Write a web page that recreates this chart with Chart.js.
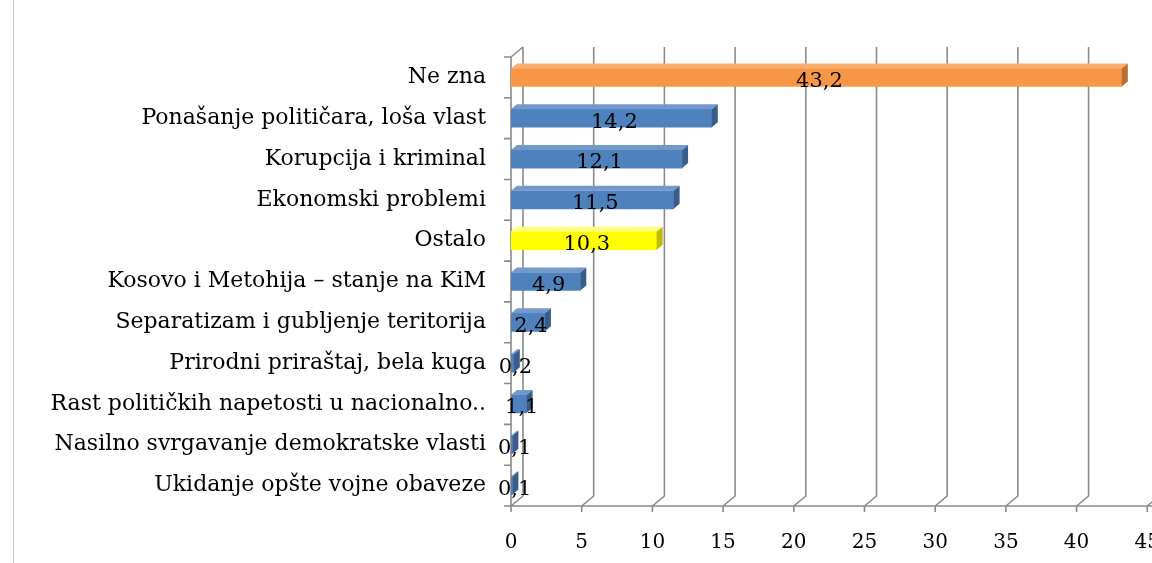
<!DOCTYPE html>
<html>
<head>
<meta charset="utf-8">
<script src="https://cdn.jsdelivr.net/npm/chart.js@4"></script>
<style>
  html, body { margin: 0; padding: 0; background: #fff; overflow: hidden; }
  canvas { display: block; }
</style>
</head>
<body>
<canvas id="chart" width="1177" height="563"></canvas>
<script>
const categories = [
    'Ne zna',
    'Ponašanje političara, loša vlast',
    'Korupcija i kriminal',
    'Ekonomski problemi',
    'Ostalo',
    'Kosovo i Metohija – stanje na KiM',
    'Separatizam i gubljenje teritorija',
    'Prirodni priraštaj, bela kuga',
    'Rast političkih napetosti u nacionalno..',
    'Nasilno svrgavanje demokratske vlasti',
    'Ukidanje opšte vojne obaveze'
];
const values = [43.2, 14.2, 12.1, 11.5, 10.3, 4.9, 2.4, 0.2, 1.1, 0.1, 0.1];
const xTicks = [0, 5, 10, 15, 20, 25, 30, 35, 40, 45];

const SERIF = '"DejaVu Serif", "Liberation Serif", serif';
const GRID = '#8a8a8a';
const DX = 12, DY = -10;      // depth of the back wall
const BDX = 6, BDY = -5;      // depth of each bar

const palette = {
    blue:   { front: '#4f81bd', top: '#7399cb', side: '#385d8a' },
    orange: { front: '#f79646', top: '#f9ad6e', side: '#b86e30' },
    yellow: { front: '#ffff00', top: '#ffff7a', side: '#bdbd00' }
};
const colorOf = c => c === 'Ne zna' ? palette.orange : (c === 'Ostalo' ? palette.yellow : palette.blue);

const background = {
    id: 'background',
    beforeDraw(chart) {
        const ctx = chart.ctx;
        ctx.save();
        ctx.fillStyle = '#fff';
        ctx.fillRect(0, 0, chart.width, chart.height);
        ctx.strokeStyle = '#c8c8c8';
        ctx.lineWidth = 1;
        ctx.beginPath();
        ctx.moveTo(13.5, 0);
        ctx.lineTo(13.5, chart.height);
        ctx.stroke();
        ctx.restore();
    }
};

const walls = {
    id: 'walls',
    beforeDatasetsDraw(chart) {
        const { ctx, chartArea: a, scales: { x } } = chart;
        ctx.save();
        ctx.strokeStyle = GRID;
        ctx.lineWidth = 1.6;
        ctx.beginPath();
        xTicks.forEach(v => {
            const px = x.getPixelForValue(v);
            // back wall line + diagonal to the front floor
            ctx.moveTo(px + DX, a.top + DY);
            ctx.lineTo(px + DX, a.bottom + DY);
            ctx.lineTo(px, a.bottom);
            // tick mark below the axis
            ctx.moveTo(px, a.bottom);
            ctx.lineTo(px, a.bottom + 6);
        });
        // front axis line
        ctx.moveTo(a.left - 7, a.bottom);
        ctx.lineTo(chart.width, a.bottom);
        // left wall front edge
        ctx.moveTo(a.left, a.bottom);
        ctx.lineTo(a.left, a.top);
        ctx.lineTo(a.left + DX, a.top + DY);
        // category ticks on the left
        const step = (a.bottom - a.top) / categories.length;
        for (let i = 0; i <= categories.length; i++) {
            const py = a.top + i * step;
            ctx.moveTo(a.left - 7, py);
            ctx.lineTo(a.left, py);
        }
        ctx.stroke();
        ctx.restore();
    }
};

const bars3d = {
    id: 'bars3d',
    afterDatasetsDraw(chart) {
        const ctx = chart.ctx;
        const meta = chart.getDatasetMeta(0);
        ctx.save();
        meta.data.forEach((bar, i) => {
            const col = colorOf(categories[i]);
            const t = bar.y - bar.height / 2, b = bar.y + bar.height / 2;
            ctx.fillStyle = col.top;
            ctx.beginPath();
            ctx.moveTo(bar.base, t);
            ctx.lineTo(bar.x, t);
            ctx.lineTo(bar.x + BDX, t + BDY);
            ctx.lineTo(bar.base + BDX, t + BDY);
            ctx.closePath();
            ctx.fill();
            ctx.fillStyle = col.side;
            ctx.beginPath();
            ctx.moveTo(bar.x, t);
            ctx.lineTo(bar.x + BDX, t + BDY);
            ctx.lineTo(bar.x + BDX, b + BDY);
            ctx.lineTo(bar.x, b);
            ctx.closePath();
            ctx.fill();
        });
        ctx.restore();
    },
    afterDraw(chart) {
        const ctx = chart.ctx;
        const meta = chart.getDatasetMeta(0);
        ctx.save();
        ctx.font = '21px ' + SERIF;
        ctx.fillStyle = '#000';
        ctx.textAlign = 'center';
        ctx.textBaseline = 'middle';
        meta.data.forEach((bar, i) => {
            const label = String(values[i]).replace('.', ',');
            ctx.fillText(label, (bar.base + bar.x) / 2 + 3, bar.y + 4);
        });
        ctx.restore();
    }
};

new Chart(document.getElementById('chart'), {
    type: 'bar',
    data: {
        labels: categories,
        datasets: [{
            data: values,
            backgroundColor: categories.map(c => colorOf(c).front),
            barThickness: 18
        }]
    },
    options: {
        indexAxis: 'y',
        responsive: false,
        animation: false,
        devicePixelRatio: 1,
        layout: { padding: { top: 57, right: 27, left: 0, bottom: 0 } },
        plugins: { legend: { display: false }, tooltip: { enabled: false } },
        scales: {
            x: {
                min: 0,
                max: 45,
                grid: { display: false },
                border: { display: false },
                ticks: {
                    stepSize: 5,
                    color: '#000',
                    padding: 17,
                    font: { family: SERIF, size: 20 }
                },
                afterFit(scale) { scale.height = 57; }
            },
            y: {
                grid: { display: false },
                border: { display: false },
                ticks: {
                    autoSkip: false,
                    color: '#000',
                    padding: 17,
                    font: { family: SERIF, size: 22 }
                },
                afterFit(scale) { scale.width = 511; }
            }
        }
    },
    plugins: [background, walls, bars3d]
});
</script>
</body>
</html>
